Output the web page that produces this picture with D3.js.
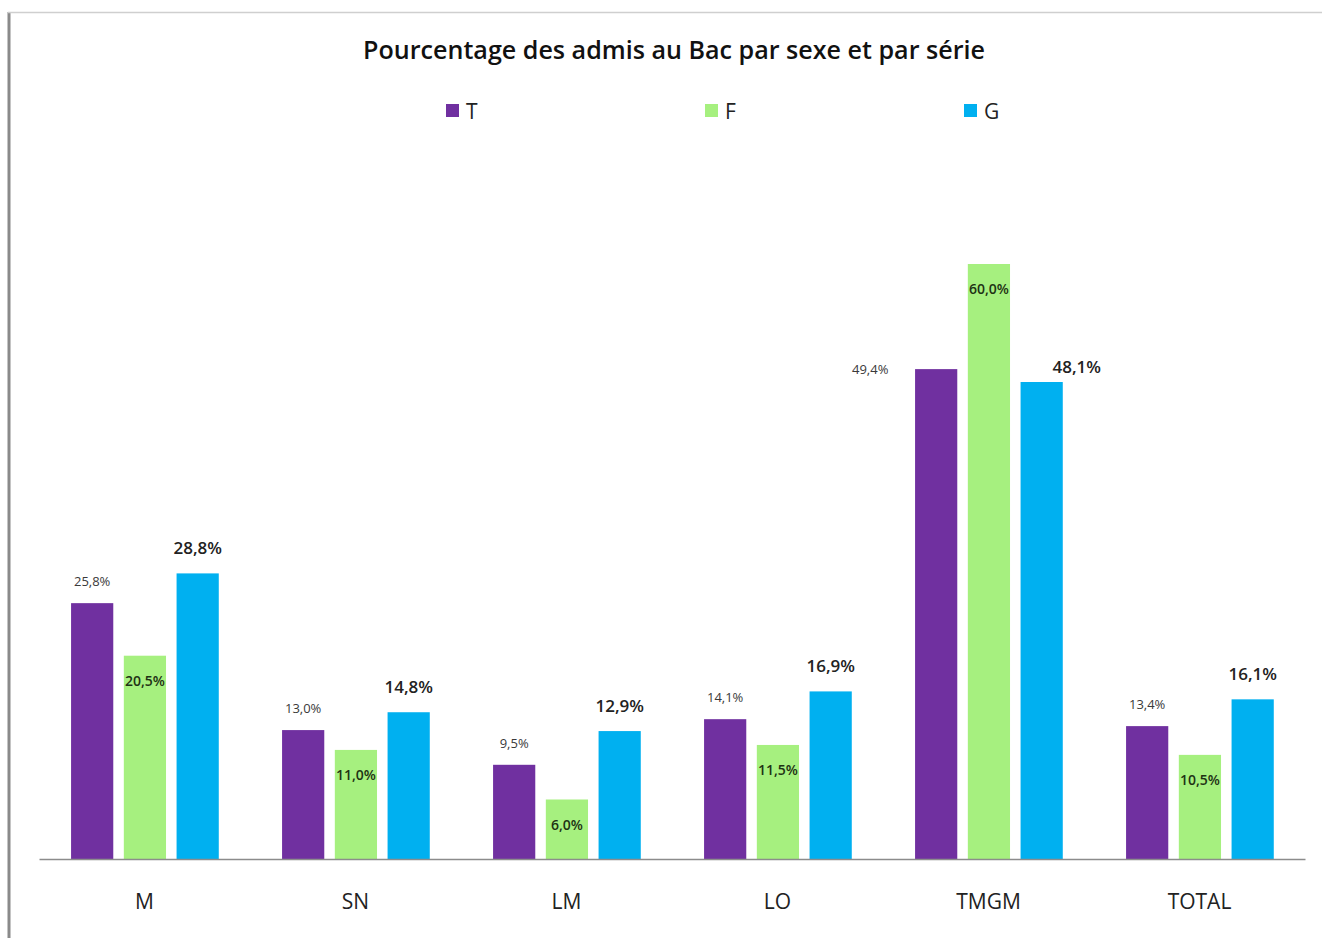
<!DOCTYPE html>
<html><head><meta charset="utf-8">
<script src="https://cdn.jsdelivr.net/npm/d3@7"></script>
<style>body{margin:0;background:#fff}svg{display:block}</style>
</head><body>
<svg id="c" width="1322" height="938"></svg>
<script>
const categories = ["M","SN","LM","LO","TMGM","TOTAL"];
const seriesNames = ["T","F","G"];
const valuesT = [25.8, 13.0, 9.5, 14.1, 49.4, 13.4];
const valuesF = [20.5, 11.0, 6.0, 11.5, 60.0, 10.5];
const valuesG = [28.8, 14.8, 12.9, 16.9, 48.1, 16.1];
const colors = ["#7030A0", "#A6F07F", "#00B0F0"];
const title = "Pourcentage des admis au Bac par sexe et par série";

const svg = d3.select("#c");
const font = "'Open Sans', 'Noto Sans', sans-serif";

// frame
svg.append("line").attr("x1",9).attr("x2",9).attr("y1",12).attr("y2",938).attr("stroke","#8a8a8a").attr("stroke-width",3);
svg.append("line").attr("x1",8).attr("x2",1322).attr("y1",12.5).attr("y2",12.5).attr("stroke","#cfcfcf").attr("stroke-width",1.5);

const x0 = d3.scaleBand().domain(categories).range([39, 1305]).paddingInner(0).paddingOuter(0);
const x1 = d3.scaleBand().domain(seriesNames).range([x0.bandwidth()*0.152, x0.bandwidth()*0.852]).paddingInner(0.2).paddingOuter(0);
const y = d3.scaleLinear().domain([0, 60]).range([859, 264]);

const data = categories.map((c,i)=>({cat:c, vals:[valuesT[i], valuesF[i], valuesG[i]]}));

const g = svg.append("g");
const groups = g.selectAll("g.grp").data(data).join("g").attr("class","grp")
  .attr("transform", d=>`translate(${x0(d.cat)},0)`);

groups.selectAll("rect").data(d=>d.vals.map((v,j)=>({cat:d.cat, s:seriesNames[j], v, j})))
  .join("rect")
  .attr("x", d=>x1(d.s)).attr("width", x1.bandwidth())
  .attr("y", d=>y(d.v)).attr("height", d=>y(0)-y(d.v))
  .attr("fill", d=>colors[d.j]);

const fmt = v => v.toFixed(1).replace(".", ",") + "%";

groups.selectAll("text.lbl").data(d=>d.vals.map((v,j)=>({cat:d.cat, s:seriesNames[j], v, j})))
  .join("text").attr("class","lbl")
  .attr("text-anchor","middle")
  .attr("font-family", font)
  .attr("x", d=>{
    let cx = x1(d.s) + x1.bandwidth()/2;
    if (d.cat === "TMGM" && d.s === "T") cx -= 66;
    if (d.cat === "TMGM" && d.s === "G") cx += 35;
    return cx;
  })
  .attr("y", d=>{
    if (d.s === "T") return (d.cat === "TMGM") ? y(d.v)+5 : y(d.v) - 17;
    if (d.s === "F") return y(d.v) + 30;
    return (d.cat === "TMGM") ? y(d.v) - 9 : y(d.v) - 19;
  })
  .attr("font-size", d=> d.s === "T" ? 13 : d.s === "F" ? 14 : 17)
  .attr("font-weight", d=> d.s === "T" ? 400 : 600)
  .attr("fill", d=> d.s === "T" ? "#3a3a3a" : d.s === "F" ? "#1e3214" : "#222")
  .text(d=>fmt(d.v));

// axis
const ax = svg.append("g").attr("transform","translate(0,859)")
  .call(d3.axisBottom(x0).tickSize(0).tickPadding(35));
ax.select(".domain").attr("stroke","#8c8c8c").attr("stroke-width",1.5);
ax.selectAll("text").attr("font-family", font).attr("font-size", 21).attr("fill","#222");

// title
svg.append("text").attr("x", 674).attr("y", 59).attr("text-anchor","middle")
  .attr("font-family", font).attr("font-size", 25).attr("font-weight", 600).attr("fill","#111")
  .attr("textLength", 622).attr("lengthAdjust","spacingAndGlyphs")
  .text(title);

// legend
const legX = d3.scalePoint().domain(seriesNames).range([446, 964]);
const leg = svg.append("g").selectAll("g").data(seriesNames).join("g")
  .attr("transform", d=>`translate(${legX(d)},104)`);
leg.append("rect").attr("width",13).attr("height",13).attr("fill",(d,i)=>colors[i]);
leg.append("text").attr("x",20).attr("y",15).attr("font-family",font).attr("font-size",21).attr("fill","#222").text(d=>d);
</script>
</body></html>
